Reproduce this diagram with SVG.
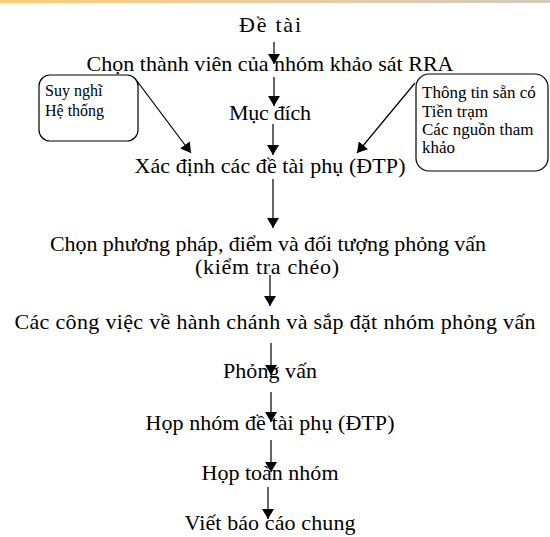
<svg xmlns="http://www.w3.org/2000/svg" width="550" height="537" viewBox="0 0 550 537">
<defs>
<linearGradient id="bar" x1="0" y1="0" x2="1" y2="0">
<stop offset="0" stop-color="#fccc76"/>
<stop offset="0.5" stop-color="#e9cda2"/>
<stop offset="1" stop-color="#d2cac0"/>
</linearGradient>
<marker id="ah" markerUnits="userSpaceOnUse" markerWidth="14" markerHeight="12" viewBox="0 0 10 12" refX="10" refY="6" orient="auto">
<path d="M0,0 L10,6 L0,12 Z" fill="#000"/>
</marker>
<style>
.t{font-family:"Liberation Serif","Times New Roman",serif;font-size:22px;fill:#000;text-anchor:middle}
.s{font-family:"Liberation Serif","Times New Roman",serif;font-size:16px;fill:#000}
.r{font-size:17px}
.c{stroke:#000;stroke-width:1.2;fill:none;marker-end:url(#ah)}
.b{fill:#fff;stroke:#000;stroke-width:1.2}
</style>
</defs>
<rect x="0" y="0" width="550" height="3" fill="url(#bar)"/>
<g id="connectors">
<path class="c" d="M274,42 V64"/>
<path class="c" d="M274,77 V106"/>
<path class="c" d="M273,124 V155"/>
<path class="c" d="M273,179 V228"/>
<path class="c" d="M270,275 V306"/>
<path class="c" d="M271,343 V375"/>
<path class="c" d="M271,392 V422"/>
<path class="c" d="M271,440 V472"/>
<path class="c" d="M268,487 V519"/>
<path class="c" d="M137,81 L191,153"/>
<path class="c" d="M415,83 L357,153"/>
</g>
<g id="n1"><text class="t" x="270" y="32" textLength="62" lengthAdjust="spacing">Đề tài</text></g>
<g id="n2"><text class="t" x="270" y="71" textLength="367" lengthAdjust="spacing">Chọn thành viên của nhóm khảo sát RRA</text></g>
<g id="n3"><text class="t" x="270" y="120" textLength="82" lengthAdjust="spacing">Mục đích</text></g>
<g id="n4"><text class="t" x="270" y="173" textLength="271" lengthAdjust="spacing">Xác định các đề tài phụ (ĐTP)</text></g>
<g id="n5"><text class="t" x="268" y="251" textLength="436" lengthAdjust="spacing">Chọn phương pháp, điểm và đối tượng phỏng vấn</text>
<text class="t" x="267" y="274" textLength="144" lengthAdjust="spacing">(kiểm tra chéo)</text></g>
<g id="n6"><text class="t" x="275" y="329" textLength="521" lengthAdjust="spacing">Các công việc về hành chánh và sắp đặt nhóm phỏng vấn</text></g>
<g id="n7"><text class="t" x="270" y="378" textLength="94" lengthAdjust="spacing">Phỏng vấn</text></g>
<g id="n8"><text class="t" x="270" y="430" textLength="249" lengthAdjust="spacing">Họp nhóm đề tài phụ (ĐTP)</text></g>
<g id="n9"><text class="t" x="270" y="480" textLength="137" lengthAdjust="spacing">Họp toàn nhóm</text></g>
<g id="n10"><text class="t" x="270" y="530" textLength="171" lengthAdjust="spacing">Viết báo cáo chung</text></g>
<g id="left-box">
<rect class="b" x="39" y="75" width="99" height="66" rx="11" ry="11"/>
<text class="s" x="45" y="96">Suy nghĩ</text>
<text class="s" x="45" y="116">Hệ thống</text>
</g>
<g id="right-box">
<rect class="b" x="416" y="74" width="132" height="97" rx="13" ry="13"/>
<text class="s r" x="422" y="98">Thông tin sẵn có</text>
<text class="s r" x="422" y="117">Tiền trạm</text>
<text class="s r" x="422" y="135">Các nguồn tham</text>
<text class="s r" x="422" y="153">khảo</text>
</g>
</svg>
